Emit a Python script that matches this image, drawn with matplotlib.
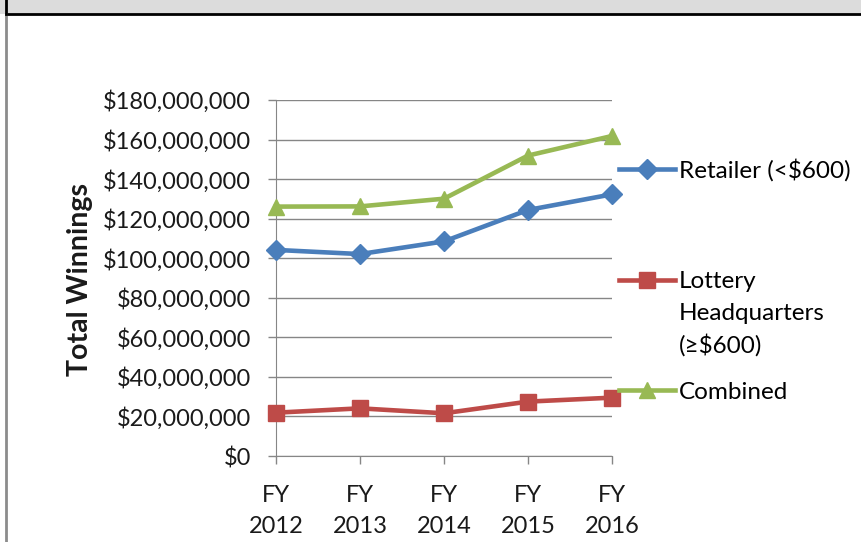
import matplotlib
matplotlib.use("Agg")
from matplotlib import pyplot as plt
from matplotlib.lines import Line2D
from matplotlib.patches import Rectangle
from matplotlib.ticker import FuncFormatter

plt.rcParams['font.family'] = ['Lato', 'DejaVu Sans']

years = ["FY\n2012", "FY\n2013", "FY\n2014", "FY\n2015", "FY\n2016"]
retailer = [104.2e6, 102.1e6, 108.5e6, 124.4e6, 132.3e6]
headquarters = [21.9e6, 24.1e6, 21.6e6, 27.5e6, 29.5e6]
combined = [126.1e6, 126.2e6, 130.1e6, 151.9e6, 161.8e6]

blue = '#4a7ebb'
red = '#be4b48'
green = '#98b954'
grid = '#868686'
txt = '#1a1a1a'

fig = plt.figure(figsize=(8.62, 5.42), dpi=100)
ax = fig.add_axes([276 / 862, 1 - 456 / 542, 336 / 862, 356 / 542])

xs = range(len(years))
l_ret, = ax.plot(xs, retailer, color=blue, lw=3.3, marker='D', markersize=10,
                 clip_on=False, zorder=3)
l_hq, = ax.plot(xs, headquarters, color=red, lw=3.3, marker='s', markersize=12,
                clip_on=False, zorder=3)
l_com, = ax.plot(xs, combined, color=green, lw=3.3, marker='^', markersize=12,
                 clip_on=False, zorder=3)

ax.set_xlim(0, 4)
ax.set_ylim(0, 180e6)
ax.set_yticks(range(0, 180000001, 20000000))
ax.yaxis.set_major_formatter(FuncFormatter(lambda v, p: '${:,.0f}'.format(v)))
ax.set_xticks(list(xs))
ax.set_xticklabels(years, linespacing=1.55)
ax.grid(axis='y', color=grid, lw=1)
ax.set_axisbelow(True)
for s in ['top', 'right']:
    ax.spines[s].set_visible(False)
for s in ['left', 'bottom']:
    ax.spines[s].set_color(grid)
ax.tick_params(axis='both', colors=grid, labelcolor=txt, labelsize=17,
               length=6, width=1)
ax.tick_params(axis='y', pad=12)
ax.tick_params(axis='x', pad=15)

fig.text(80 / 862, 1 - 280 / 542, 'Total Winnings', rotation=90, ha='center',
         va='center', fontsize=20.5, fontweight='bold', color=txt)

# legend, split in three blocks
leg_kw = dict(frameon=False, fontsize=17.5, handlelength=2.3, handletextpad=0.15,
              borderpad=0, borderaxespad=0, loc='center left')
leg1 = fig.legend([l_ret], ['Retailer (<$600)'],
                  bbox_to_anchor=(619 / 862, 1 - 170 / 542), **leg_kw)
blank = Line2D([], [], color='none')
leg2 = fig.legend([l_hq, blank, blank], ['Lottery', 'Headquarters', '(≥$600)'],
                  bbox_to_anchor=(619 / 862, 1 - 314 / 542), labelspacing=0.43,
                  **leg_kw)
leg3 = fig.legend([l_com], ['Combined'],
                  bbox_to_anchor=(619 / 862, 1 - 392 / 542), **leg_kw)

# frame pieces from the page around the chart
fig.patches.append(Rectangle((0, 1 - 14 / 542), 1, 14 / 542, transform=fig.transFigure,
                             facecolor='#dcdcdc', edgecolor='none', zorder=0))
fig.lines.append(Line2D([6 / 862, 1], [1 - 14 / 542, 1 - 14 / 542],
                        transform=fig.transFigure, color='black', lw=2))
fig.lines.append(Line2D([6 / 862, 6 / 862], [0, 1 - 14 / 542],
                        transform=fig.transFigure, color='#8c8c8c', lw=2))
fig.lines.append(Line2D([6 / 862, 6 / 862], [1 - 14 / 542, 1],
                        transform=fig.transFigure, color='black', lw=2))

fig.savefig('out.png', dpi=100)
